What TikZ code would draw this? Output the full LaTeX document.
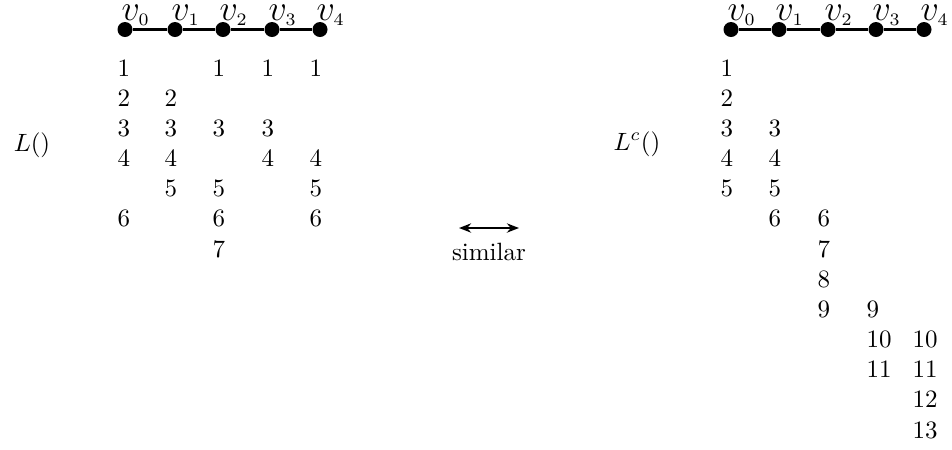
\documentclass[tikz,border=0pt]{standalone}
\usetikzlibrary{arrows.meta}
\tikzset{
  >={Stealth[length=1.7mm,width=1.3mm]},
  vert/.style={circle,fill=black,inner sep=0pt,minimum size=6pt},
  vlab/.style={anchor=base west,inner sep=0pt,font=\Large},
  entry/.style={anchor=base west,inner sep=0pt},
  pathline/.style={very thick},
}
\begin{document}
\begin{tikzpicture}[x=0.4pt,y=-0.4pt]
    \useasboundingbox (0,0) rectangle (952,449);
    % left path and its lists
    \foreach \x [count=\i from 0] in {125,175,223,272,320} {
      \node[vert] (a\i) at (\x,29.5) {};
      \node[vlab] (av\i) at (\x-4,20) {$v_{\scriptscriptstyle\i}$};
    }
    \draw[pathline] (a0) -- (a1) -- (a2) -- (a3) -- (a4);
    \foreach \x/\vals [count=\c] in {117/{1,2,3,4,6},164/{2,3,4,5},212/{1,3,5,6,7},261/{1,3,4},309/{1,4,5,6}}
      \foreach \n in \vals
        \node[entry] (l\c-\n) at (\x,76+30.17*\n-30.17) {\n};
    \node[anchor=base] (lname) at (32,151) {$L()$};
    % right path and its lists
    \foreach \x [count=\i from 0] in {731,779,828,876,924} {
      \node[vert] (b\i) at (\x,29.5) {};
      \node[vlab] (bv\i) at (\x-4,20) {$v_{\scriptscriptstyle\i}$};
    }
    \draw[pathline] (b0) -- (b1) -- (b2) -- (b3) -- (b4);
    \foreach \x/\vals [count=\c] in {720/{1,2,3,4,5},768/{3,4,5,6},817/{6,7,8,9},866/{9,10,11},912/{10,11,12,13}}
      \foreach \n in \vals
        \node[entry] (r\c-\n) at (\x,76+30.17*\n-30.17) {\n};
    \node[anchor=base] (rname) at (637,150) {$L^c()$};
    % middle
    \coordinate (sl) at (459,228);
    \coordinate (sr) at (519,228);
    \draw[<->,thick] (sl) -- (sr);
    \node[anchor=base] (sim) at (489,260) {similar};
  \end{tikzpicture}
\end{document}
